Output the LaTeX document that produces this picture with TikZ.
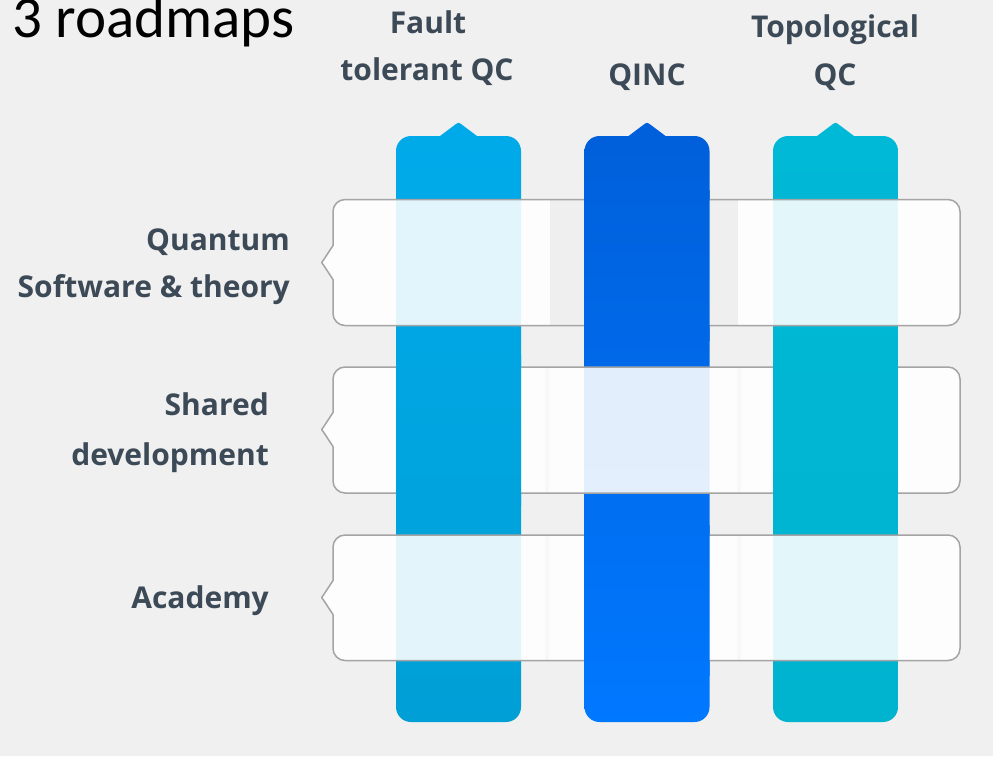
\documentclass[tikz,border=0pt]{standalone}
\usepackage{fontspec}
\newfontfamily\titlefont{Carlito}
\newfontfamily\labelfont{Open Sans}

\definecolor{bg}{HTML}{F0F0F0}
\definecolor{ftTop}{HTML}{00AAEA}
\definecolor{ftBot}{HTML}{009FD6}
\definecolor{qiTop}{HTML}{005FDA}
\definecolor{qiBot}{HTML}{0078FF}
\definecolor{tqTop}{HTML}{00B9D6}
\definecolor{tqBot}{HTML}{00B3CF}
\definecolor{edge}{HTML}{A4A4A4}
\definecolor{ink}{HTML}{3C4956}
\definecolor{gap}{HTML}{EFEFEF}
\definecolor{faint}{HTML}{F8F8F8}

% vertical roadmap bar: left edge #1, width 125, small tab on top
\newcommand\colpath[1]{%
 ({#1},707) -- ({#1},151) .. controls ({#1},142.7) and ({#1+6.7},136) .. ({#1+15},136)
 -- ({#1+44},136) -- ({#1+58},125.5) .. controls ({#1+62.5},122) .. ({#1+67},125.5) -- ({#1+81},136)
 -- ({#1+110},136) .. controls ({#1+118.3},136) and ({#1+125},142.7) .. ({#1+125},151)
 -- ({#1+125},707) .. controls ({#1+125},715.3) and ({#1+118.3},722) .. ({#1+110},722)
 -- ({#1+15},722) .. controls ({#1+6.7},722) and ({#1},715.3) .. ({#1},707) -- cycle}

% horizontal band: top #1, bottom #2, tab centre #3
\newcommand\rowpath[3]{%
 (345,#1) -- (948,#1) .. controls (954.6,#1) and (960,{#1+5.4}) .. (960,{#1+12})
 -- (960,{#2-12}) .. controls (960,{#2-5.4}) and (954.6,#2) .. (948,#2)
 -- (345,#2) .. controls (338.4,#2) and (333,{#2-5.4}) .. (333,{#2-12})
 -- (333,{#3+17}) -- (323.5,{#3+2.5}) .. controls (321.3,{#3}) .. (323.5,{#3-2.5})
 -- (333,{#3-17}) -- (333,{#1+12}) .. controls (333,{#1+5.4}) and (338.4,#1) .. (345,#1) -- cycle}

\tikzset{
  lbl/.style={inner sep=0pt, text=ink, font=\labelfont\bfseries\fontsize{30}{36}\selectfont},
  ttl/.style={inner sep=0pt, text=black, font=\titlefont\fontsize{59}{70}\selectfont},
  bandfill/.style={fill=white, fill opacity=0.89},
  bandedge/.style={draw=edge, line width=1.5pt},
  ftbar/.style={top color=ftTop, bottom color=ftBot},
  qibar/.style={top color=qiTop, bottom color=qiBot},
  tqbar/.style={top color=tqTop, bottom color=tqBot}
}

\begin{document}
\begin{tikzpicture}[x=1pt, y=-1pt]
\fill[bg] (0,0) rectangle (993,756);
\useasboundingbox (0,0) rectangle (993,756);

% bars
\shade[ftbar] \colpath{396};
\shade[tqbar] \colpath{773};
\shade[qibar] \colpath{584.5};

% band 1: Quantum Software & theory (QINC bar passes over it)
\fill[bandfill] \rowpath{199.5}{325.5}{262.5};
\fill[gap] (550,200.3) rectangle (584.5,324.7);
\fill[gap] (709.5,200.3) rectangle (738,324.7);
\draw[bandedge] \rowpath{199.5}{325.5}{262.5};
\begin{scope}
  \clip (570,190) rectangle (725,340);
  \shade[qibar] \colpath{584.5};
\end{scope}

% band 2: Shared development (outer bars pass over it)
\fill[bandfill] \rowpath{367}{493}{429.5};
\fill[faint] (545,368) rectangle (549,492);
\fill[faint] (737,368) rectangle (741,492);
\draw[bandedge] \rowpath{367}{493}{429.5};
\begin{scope}
  \clip (380,355) rectangle (535,505);
  \shade[ftbar] \colpath{396};
\end{scope}
\begin{scope}
  \clip (760,355) rectangle (915,505);
  \shade[tqbar] \colpath{773};
\end{scope}

% band 3: Academy (QINC bar passes over it)
\fill[bandfill] \rowpath{535}{660.5}{597.5};
\fill[faint] (545,536) rectangle (549,659.5);
\fill[faint] (737,536) rectangle (741,659.5);
\draw[bandedge] \rowpath{535}{660.5}{597.5};
\begin{scope}
  \clip (570,525) rectangle (725,675);
  \shade[qibar] \colpath{584.5};
\end{scope}

% title
\node[ttl, anchor=base west] (title) at (12,37) {3 roadmaps};

% bar headings
\node[lbl, anchor=base] (ftA) at (428,33) {Fault};
\node[lbl, anchor=base] (ftB) at (427,80) {tolerant QC};
\node[lbl, anchor=base] (qiA) at (647,85) {QINC};
\node[lbl, anchor=base] (tqA) at (835,37) {Topological};
\node[lbl, anchor=base] (tqB) at (835,85) {QC};

% band headings
\node[lbl, anchor=base east] (swA) at (290,250) {Quantum};
\node[lbl, anchor=base east] (swB) at (290,297) {Software \& theory};
\node[lbl, anchor=base east] (sdA) at (269,415) {Shared};
\node[lbl, anchor=base east] (sdB) at (269,465) {development};
\node[lbl, anchor=base east] (ac) at (269,608) {Academy};
\end{tikzpicture}
\end{document}
